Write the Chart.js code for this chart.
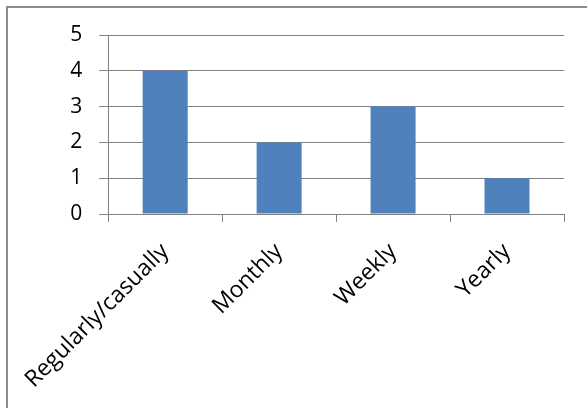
<!DOCTYPE html>
<html>
<head>
<meta charset="utf-8">
<script src="https://cdn.jsdelivr.net/npm/chart.js@4/dist/chart.umd.min.js"></script>
<style>
html,body{margin:0;padding:0;background:#fff;}
#wrap{width:587px;height:408px;position:relative;}
</style>
</head>
<body>
<div id="wrap"><canvas id="c" width="587" height="408"></canvas></div>
<script>
const categories = ["Regularly/casually", "Monthly", "Weekly", "Yearly"];
const counts = [4, 2, 3, 1];
const yTicks = [0, 1, 2, 3, 4, 5];

const frame = {
  id: 'frame',
  beforeDraw(chart) {
    const ctx = chart.ctx;
    ctx.save();
    ctx.fillStyle = '#fff';
    ctx.fillRect(0, 0, chart.width, chart.height);
    ctx.strokeStyle = '#8c8c8c';
    ctx.lineWidth = 2;
    ctx.beginPath();
    ctx.moveTo(7, chart.height);
    ctx.lineTo(7, 7);
    ctx.lineTo(chart.width, 7);
    ctx.stroke();
    ctx.restore();
  }
};

new Chart(document.getElementById('c'), {
  type: 'bar',
  data: {
    labels: categories,
    datasets: [{
      data: counts,
      backgroundColor: '#4F81BD',
      borderWidth: 0,
      categoryPercentage: 0.395,
      barPercentage: 1
    }]
  },
  options: {
    responsive: false,
    animation: false,
    devicePixelRatio: 1,
    layout: { padding: { left: 0, right: 23, top: 35, bottom: 0 } },
    plugins: { legend: { display: false }, tooltip: { enabled: false } },
    scales: {
      x: {
        afterFit(s) { s.height = 408 - 214; },
        grid: { offset: true, drawOnChartArea: false, drawTicks: true, tickLength: 8, color: '#808080', lineWidth: 1 },
        border: { display: true, color: '#808080', width: 1 },
        ticks: {
          minRotation: 45, maxRotation: 45, padding: 16,
          color: '#000',
          font: { family: 'Open Sans', size: 23 }
        }
      },
      y: {
        min: 0, max: 5,
        afterFit(s) { s.width = 106; },
        afterBuildTicks(s) { s.ticks = yTicks.map(v => ({ value: v })); },
        grid: { drawTicks: true, tickLength: 9, color: '#808080', lineWidth: 1 },
        border: { display: true, color: '#808080', width: 1 },
        ticks: {
          padding: 17,
          color: '#000',
          font: { family: 'Open Sans', size: 21 }
        }
      }
    }
  },
  plugins: [frame]
});
</script>
</body>
</html>
